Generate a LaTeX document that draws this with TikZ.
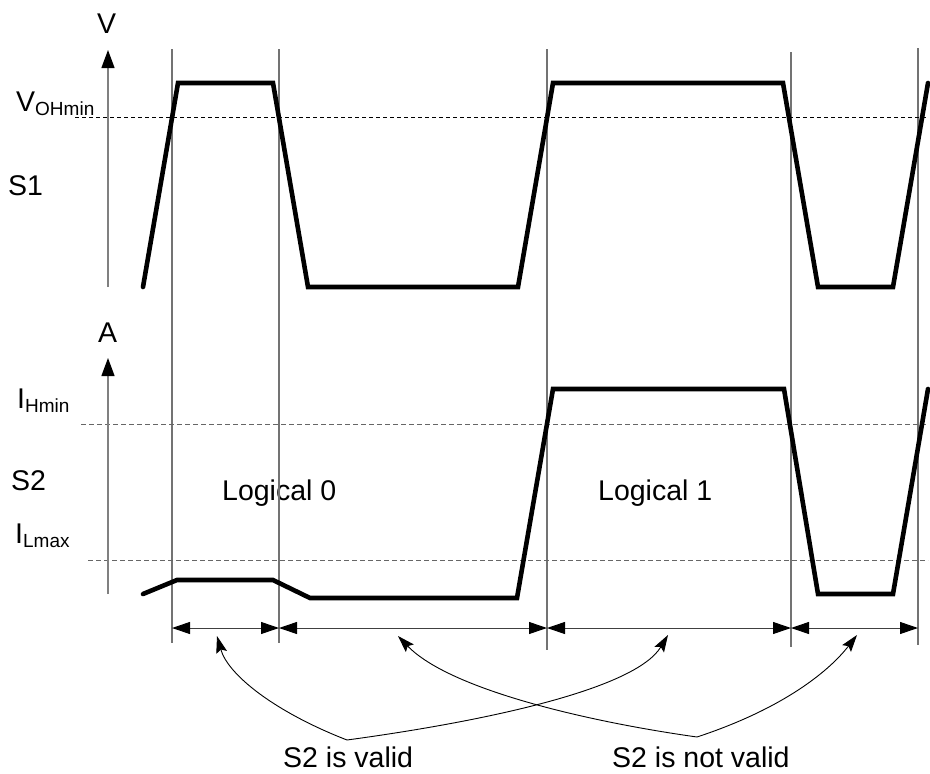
\documentclass[tikz,border=0pt]{standalone}
\usepackage{fontspec}
\setmainfont{Liberation Sans}
\usetikzlibrary{arrows.meta}
\newcommand\mysubtxt[1]{\raisebox{-4pt}{\fontsize{19}{19}\selectfont #1}}
\begin{document}
\begin{tikzpicture}[x=1pt,y=-1pt,
  sig/.style={line width=4.6pt, line join=miter, line cap=round},
  vline/.style={draw=black!55, line width=1.1pt},
  axis/.style={draw=black!50, line width=1.3pt, -{Triangle[length=18pt,width=13pt,color=black]}},
  dimarrow/.style={draw=black!75, line width=1pt, {Triangle[length=18pt,width=12pt,color=black]}-{Triangle[length=18pt,width=12pt,color=black]}},
  dashA/.style={draw=black, line width=0.8pt, dash pattern=on 4pt off 3pt},
  dashB/.style={draw=black!60, line width=1pt, dash pattern=on 5pt off 3pt},
  curv/.style={draw=black, line width=0.9pt, -{Stealth[length=17pt,width=11pt,inset=3pt]}},
  lbl/.style={font=\fontsize{28.5}{34}\selectfont, inner sep=0pt, anchor=base west}
]
\useasboundingbox (0,0) rectangle (930,774);

% labels
\node[lbl] (Vl) at (97,33) {V};
\node[lbl] (Al) at (98,342) {A};
\node[lbl] (voh) at (16,111) {V\mysubtxt{OHmin}};
\node[lbl] (s1) at (8,195) {S1};
\node[lbl] (ihm) at (17,408) {I\mysubtxt{Hmin}};
\node[lbl] (s2) at (11,490) {S2};
\node[lbl] (ilm) at (15,543) {I\mysubtxt{Lmax}};
\node[lbl] (log0) at (222,500) {Logical 0};
\node[lbl] (log1) at (598,500) {Logical 1};
\node[lbl] (valid) at (283,767) {S2 is valid};
\node[lbl] (nvalid) at (612,767) {S2 is not valid};

% vertical time lines
\coordinate (t1a) at (172,49);  \coordinate (t1b) at (172,643);
\coordinate (t2a) at (279,49);  \coordinate (t2b) at (279,643);
\coordinate (t3a) at (547,49);  \coordinate (t3b) at (547,650);
\coordinate (t4a) at (791,52);  \coordinate (t4b) at (791,647);
\coordinate (t5a) at (918,48);  \coordinate (t5b) at (918,645);
\foreach \i in {1,...,5} {\draw[vline] (t\i a) -- (t\i b);}

% threshold lines
\coordinate (dA1) at (75,117);  \coordinate (dA2) at (928,117);
\coordinate (dB1) at (81,424);  \coordinate (dB2) at (928,424);
\coordinate (dC1) at (88,560);  \coordinate (dC2) at (928,560);
\draw[dashA] (dA1) -- (dA2);
\draw[dashB] (dB1) -- (dB2);
\draw[dashB] (dC1) -- (dC2);

% axes
\coordinate (ax1b) at (108,287); \coordinate (ax1t) at (108,50);
\coordinate (ax2b) at (108,594); \coordinate (ax2t) at (108,358);
\draw[axis] (ax1b) -- (ax1t);
\draw[axis] (ax2b) -- (ax2t);

% S1 signal
\draw[sig] (143,287) -- (178,83) -- (273,83) -- (308,287) -- (518,287)
  -- (553,83) -- (783,83) -- (818,287) -- (893,287) -- (928,83);

% S2 signal
\draw[sig] (143,594) -- (177,580) -- (273,580) -- (310,598) -- (517,598)
  -- (553,389) -- (784,389) -- (818,594) -- (893,594) -- (928,389);

% dimension arrows
\coordinate (m1) at (172,628); \coordinate (m2) at (279,628);
\coordinate (m3) at (547,628); \coordinate (m4) at (791,628);
\coordinate (m5) at (918,628);
\draw[dimarrow] (m1) -- (m2);
\draw[dimarrow] (m2) -- (m3);
\draw[dimarrow] (m3) -- (m4);
\draw[dimarrow] (m4) -- (m5);

% pointer curves
\coordinate (va) at (347,740);
\coordinate (nva) at (697,737);
\coordinate (p1) at (217,636);
\coordinate (p2) at (398,636);
\coordinate (p3) at (668,635);
\coordinate (p4) at (857,635);
\draw[curv] (va) .. controls (275,712) and (228,675) .. (p1);
\draw[curv] (va) .. controls (480,722) and (635,690) .. (p3);
\draw[curv] (nva) .. controls (590,722) and (450,690) .. (p2);
\draw[curv] (nva) .. controls (785,708) and (830,670) .. (p4);
\end{tikzpicture}
\end{document}
